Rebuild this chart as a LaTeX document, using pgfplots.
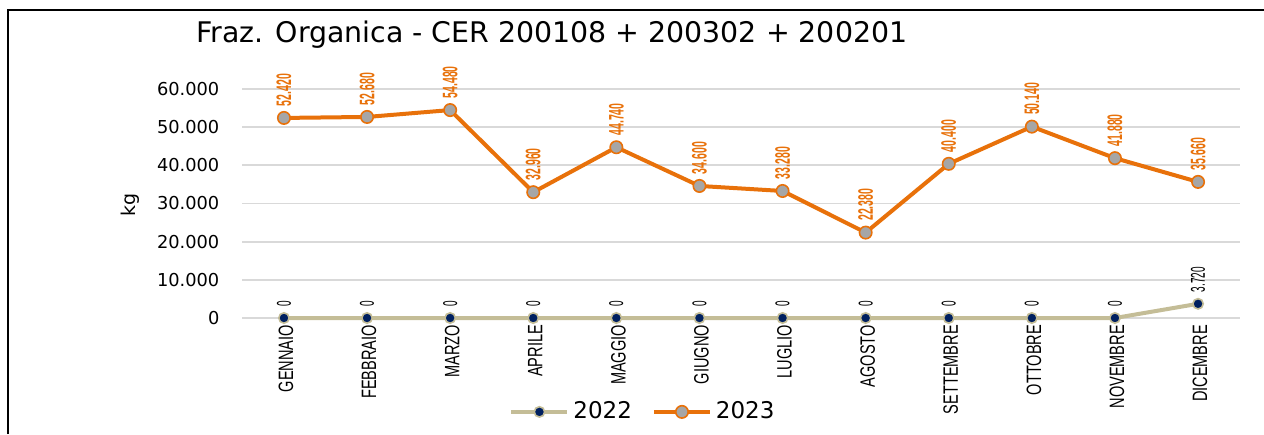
\documentclass[border=0pt]{standalone}
\usepackage{pgfplots}
\pgfplotsset{compat=1.18}
\usepackage{fontspec}
\setmainfont{DejaVu Sans}
\newfontfamily\narrowfont[FakeStretch=0.7]{Liberation Sans}
\newfontfamily\lblfont[FakeStretch=0.5]{Liberation Sans}
\definecolor{org}{RGB}{232,113,10}
\definecolor{mgray}{RGB}{166,166,166}
\definecolor{khaki}{RGB}{196,189,151}
\definecolor{navy}{RGB}{0,32,96}
\definecolor{gridgray}{RGB}{217,217,217}

\begin{document}
\begin{tikzpicture}
\useasboundingbox (0,0) rectangle (632pt,217pt);
\draw[line width=1pt] (4pt,0) -- (4pt,212pt) -- (632pt,212pt);
\node[anchor=west, inner sep=0pt, font=\fontsize{14.2}{16}\selectfont] at (98pt,199.5pt) {Fraz. Organica - CER 200108 + 200302 + 200201};
\node[rotate=90, font=\fontsize{9.5}{11}\selectfont] at (65pt,114.5pt) {kg};
\begin{axis}[
  at={(121.2pt,58pt)}, anchor=south west,
  scale only axis, width=498.6pt, height=114.5pt,
  xmin=-0.5, xmax=11.5, ymin=0, ymax=60000,
  clip=false,
  axis line style={draw=none},
  major tick length=0pt,
  xtick={0,...,11},
  xticklabels={GENNAIO,FEBBRAIO,MARZO,APRILE,MAGGIO,GIUGNO,LUGLIO,AGOSTO,SETTEMBRE,OTTOBRE,NOVEMBRE,DICEMBRE},
  xticklabel style={rotate=90, anchor=east, font=\narrowfont\fontsize{10.4}{11}\selectfont, yshift=-1pt},
  ytick={0,10000,20000,30000,40000,50000,60000},
  scaled y ticks=false,
  yticklabel style={font=\fontsize{8.9}{11}\selectfont, xshift=-8pt},
  ymajorgrids, grid style={line width=0.9pt, color=gridgray},
  /pgf/number format/.cd, fixed, 1000 sep={.}, assume math mode=true, /pgfplots/.cd,
  nodes near coords,
  nodes near coords style={rotate=90, anchor=west, inner xsep=5.5pt},
  legend columns=2,
  legend style={at={(0.4027,-0.41)}, anchor=center, draw=none, fill=none,
    font=\fontsize{11.5}{13}\selectfont,
    /tikz/every even column/.append style={column sep=8pt}},
  legend image code/.code={\draw[mark repeat=2,mark phase=2] plot coordinates {(0pt,0pt)(14pt,0pt)(28pt,0pt)};},
]
\addplot[color=khaki, line width=2pt, mark=*, mark size=2.6pt,
  mark options={fill=navy, draw=khaki, line width=0.8pt},
  every node near coord/.append style={font=\lblfont\fontsize{10}{11}\selectfont, text=black}]
  coordinates {(0,0) (1,0) (2,0) (3,0) (4,0) (5,0) (6,0) (7,0) (8,0) (9,0) (10,0) (11,3720)};
\addlegendentry{2022}
\addplot[color=org, line width=2pt, mark=*, mark size=3.1pt,
  mark options={fill=mgray, draw=org, line width=0.8pt},
  every node near coord/.append style={font=\lblfont\bfseries\fontsize{10.5}{11}\selectfont, text=org}]
  coordinates {(0,52420) (1,52680) (2,54480) (3,32960) (4,44740) (5,34600) (6,33280) (7,22380) (8,40400) (9,50140) (10,41880) (11,35660)};
\addlegendentry{2023}
\end{axis}
\end{tikzpicture}
\end{document}
